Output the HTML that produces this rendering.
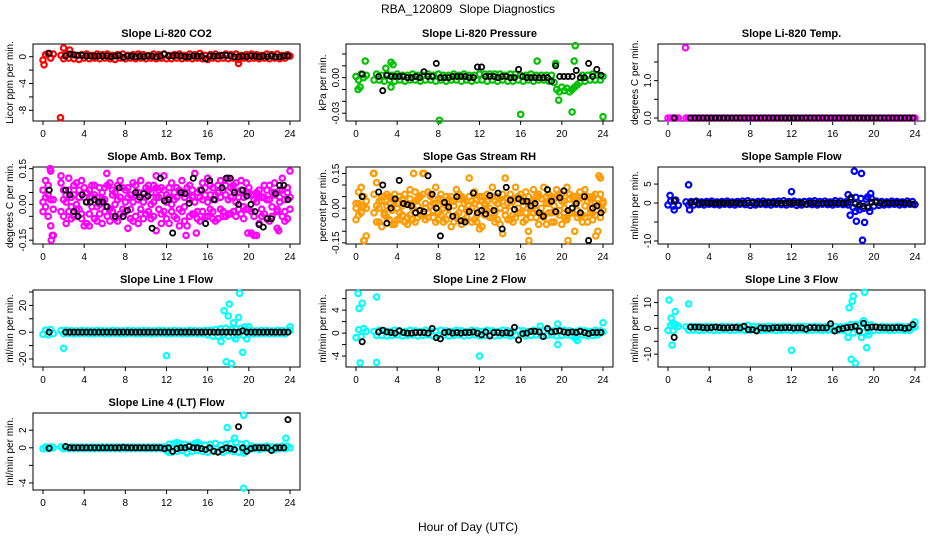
<!DOCTYPE html>
<html><head><meta charset="utf-8"><style>
html,body{margin:0;padding:0;background:#fff;}
svg{display:block;font-family:"Liberation Sans",Arial,sans-serif;}
</style></head><body>
<svg id="chart" width="936" height="540" xmlns="http://www.w3.org/2000/svg">
<text x="468" y="13" text-anchor="middle" font-size="12">RBA_120809&#160; Slope Diagnostics</text>
<text x="468" y="531" text-anchor="middle" font-size="12">Hour of Day (UTC)</text>
</svg>
<script>
// ---- shared categories (hour of day) ----
const tC = [0,0.25,0.5,0.75,1,1.75,2,2.25,2.5,2.75,3,3.25,3.5,3.75,4,4.25,4.5,4.75,5,5.25,5.5,5.75,6,6.25,6.5,6.75,7,7.25,7.5,7.75,8,8.25,8.5,8.75,9,9.25,9.5,9.75,10,10.25,10.5,10.75,11,11.25,11.5,11.75,12,12.25,12.5,12.75,13,13.25,13.5,13.75,14,14.25,14.5,14.75,15,15.25,15.5,15.75,16,16.25,16.5,16.75,17,17.25,17.5,17.75,18,18.25,18.5,18.75,19,19.25,19.5,19.75,20,20.25,20.5,20.75,21,21.25,21.5,21.75,22,22.25,22.5,22.75,23,23.25,23.5,23.75,24];
const tB = [0.6,2.2,2.6,3.0,3.4,3.8,4.2,4.6,5.0,5.4,5.8,6.2,6.6,7.0,7.4,7.8,8.2,8.6,9.0,9.4,9.8,10.2,10.6,11.0,11.4,11.8,12.2,12.6,13.0,13.4,13.8,14.2,14.6,15.0,15.4,15.8,16.2,16.6,17.0,17.4,17.8,18.2,18.6,19.0,19.4,19.8,20.2,20.6,21.0,21.4,21.8,22.2,22.6,23.0,23.4,23.8];
const xTicks = [0,4,8,12,16,20,24];

// ---- CO2 ----
const co2C = [-0.5,0.3,0.5,-0.2,0.4,0.2,-0.3,0.4,-0.2,0.3,-0.3,0.2,-0.4,0.3,-0.2,0.4,-0.3,0.2,-0.2,0.4,-0.3,0.3,-0.2,0.4,-0.3,0.2,-0.4,0.3,-0.2,0.4,-0.3,0.2,-0.2,0.3,-0.3,0.4,-0.2,0.3,-0.3,0.2,-0.2,0.4,-0.3,0.3,-0.2,0.4,-0.3,0.2,-0.3,0.3,-0.2,0.4,-0.3,0.2,-0.2,0.4,-0.3,0.3,-0.2,0.5,-0.3,0.2,-0.4,0.3,-0.2,0.4,-0.3,0.2,-0.2,0.4,-0.3,0.3,-0.2,0.4,-0.4,0.2,-0.2,0.3,-0.3,0.4,-0.2,0.3,-0.3,0.2,-0.2,0.4,-0.3,0.3,-0.2,0.4,-0.3,0.2,-0.2,0.3,0.1];
const co2B = [0.5,0.1,0.4,0.3,0.2,0.2,0.1,0.1,0.1,0.1,0.1,0.1,0.0,0.1,0.2,-0.1,0.1,0.1,0.0,0.1,0.0,0.1,0.1,0.0,0.1,0.4,0.1,0.1,0.2,0.1,0.0,0.0,0.1,0.1,0.1,-0.3,0.1,0.1,0.1,0.2,0.2,0.1,0.0,0.0,0.1,0.0,0.1,0.1,0.0,0.1,0.0,0.1,0.0,0.0,0.1,0.1];
const co2OutX = [0.1,1.7,2.0,2.6,19.0];
const co2OutY = [-1.2,-9.1,1.3,1.0,-1.0];

// ---- Pressure ----
const presC = [0.001,-0.002,0.003,0.000,0.002,-0.002,0.003,-0.002,0.002,-0.003,0.003,-0.002,0.002,-0.003,0.003,-0.002,0.002,-0.003,0.002,-0.002,0.003,-0.002,0.002,-0.003,0.002,-0.002,0.003,-0.002,0.002,-0.003,0.003,-0.002,0.002,-0.003,0.002,-0.002,0.003,-0.002,0.002,-0.003,0.003,-0.002,0.002,-0.003,0.002,-0.002,0.003,-0.002,0.003,-0.003,0.003,-0.002,0.003,-0.003,0.003,-0.002,0.002,-0.003,0.003,-0.003,0.003,-0.002,0.002,-0.003,0.002,-0.002,0.003,-0.003,0.002,-0.002,0.002,-0.002,0.002,-0.003,0.002,-0.004,-0.010,-0.012,-0.008,-0.011,-0.009,-0.012,-0.010,-0.008,-0.006,-0.004,0.002,-0.003,0.002,-0.002,0.003,-0.002,0.002,-0.002,0.001];
const presB = [0.003,0.001,-0.011,0.002,0.001,0.001,0.001,0.001,0.000,0.000,0.001,0.000,0.005,0.001,0.001,0.012,0.000,0.000,0.000,0.001,0.001,0.001,0.001,0.000,0.000,0.009,0.009,0.001,0.001,0.001,0.000,0.001,0.001,0.000,0.000,0.007,0.001,0.000,0.000,0.000,0.000,0.000,0.000,-0.003,0.010,0.001,0.001,0.001,0.001,0.006,0.000,0.000,0.012,0.001,0.007,0.002];
const presOutX = [0.9,3.4,3.6,0.2,0.4,3.4,8.1,16.0,17.6,21.3,21.2,21.0,24.0,19.7,19.4,2.9];
const presOutY = [0.014,0.013,0.011,-0.010,-0.008,-0.008,-0.036,-0.031,0.014,0.027,0.014,-0.029,-0.033,-0.019,0.012,0.008];

// ---- Li-820 Temp ----
const tempC = [0,0,0,0,0,0,0,0,0,0,0,0,0,0,0,0,0,0,0,0,0,0,0,0,0,0,0,0,0,0,0,0,0,0,0,0,0,0,0,0,0,0,0,0,0,0,0,0,0,0,0,0,0,0,0,0,0,0,0,0,0,0,0,0,0,0,0,0,0,0,0,0,0,0,0,0,0,0,0,0,0,0,0,0,0,0,0,0,0,0,0,0,0,0,0];
const tempB = [0,0,0,0,0,0,0,0,0,0,0,0,0,0,0,0,0,0,0,0,0,0,0,0,0,0,0,0,0,0,0,0,0,0,0,0,0,0,0,0,0,0,0,0,0,0,0,0,0,0,0,0,0,0,0,0];
const tempOutX = [1.7];
const tempOutY = [1.88];

// ---- Amb Box Temp ----
const ambC1 = [-0.03,0.10,0.08,0.14,-0.13,0.12,0.06,-0.08,0.11,0.03,-0.05,0.09,-0.02,0.10,-0.09,0.05,-0.04,0.08,-0.06,0.03,0.07,-0.08,0.02,-0.05,0.09,-0.03,0.05,-0.07,0.10,-0.02,0.06,-0.10,0.04,0.09,-0.05,0.02,0.10,-0.06,0.07,-0.03,0.05,0.08,-0.11,0.06,-0.04,0.12,-0.06,0.03,0.09,-0.05,0.07,-0.02,0.10,-0.07,0.05,0.08,-0.04,0.13,-0.03,0.06,0.09,-0.05,0.11,-0.02,0.07,0.04,-0.06,0.10,-0.03,0.08,0.11,-0.04,0.06,0.09,-0.02,0.10,-0.06,0.05,0.07,-0.12,0.04,-0.13,0.06,-0.05,0.08,0.02,-0.07,0.05,0.09,-0.10,0.03,0.11,-0.03,0.07,0.14];
const ambC2 = [0.06,-0.01,0.04,-0.09,0.02,-0.03,0.02,0.04,-0.03,-0.06,0.04,-0.02,0.06,-0.04,0.03,-0.08,0.06,-0.01,0.04,-0.07,0.00,0.05,-0.03,0.08,-0.02,0.04,-0.06,0.02,-0.04,0.07,-0.03,0.03,-0.06,0.01,0.04,-0.08,-0.02,0.05,-0.04,0.08,-0.06,0.01,0.03,-0.02,0.07,-0.03,0.04,-0.08,0.00,0.05,-0.06,0.06,-0.03,0.03,-0.09,0.02,0.06,-0.04,0.05,-0.07,0.02,0.07,-0.05,0.04,-0.03,-0.07,0.05,-0.02,0.06,-0.05,0.02,0.07,-0.03,0.01,0.05,-0.04,0.03,-0.02,0.05,-0.03,0.02,0.05,-0.08,0.03,-0.04,0.06,0.02,-0.05,0.04,-0.02,0.06,-0.05,0.02,-0.06,0.03];
const ambC3 = [0.01,0.03,-0.05,0.02,-0.02,0.09,-0.05,0.01,0.06,-0.01,0.08,0.00,0.03,-0.06,0.07,0.01,-0.09,0.03,0.08,-0.01,-0.04,0.02,0.07,-0.01,-0.07,0.06,0.00,0.08,0.03,-0.05,0.01,0.07,-0.02,-0.07,0.08,0.05,-0.04,0.01,0.03,0.06,0.00,-0.05,0.07,0.03,-0.08,0.06,0.01,0.07,-0.03,0.02,0.03,-0.09,0.05,-0.01,0.07,-0.05,0.03,0.01,-0.06,0.03,-0.03,0.04,0.01,0.08,-0.06,0.02,0.08,0.03,-0.05,0.04,-0.04,0.03,0.08,-0.05,0.03,0.06,-0.01,0.09,-0.02,0.04,-0.05,0.01,0.04,-0.02,0.03,-0.06,0.08,-0.01,0.05,-0.03,0.01,0.06,-0.07,0.05,-0.02];
const ambB = [0.06,0.06,0.04,-0.03,-0.05,0.04,0.01,0.01,0.02,0.01,0.01,-0.01,null,-0.05,0.07,-0.05,-0.025,null,0.05,0.03,0.045,0.035,-0.1,null,0.11,0.015,0.02,-0.12,null,0.05,0.045,0.005,0.11,null,0.06,-0.08,0.1,0.02,null,0.07,0.11,0.11,0.05,0.0,0.06,0.035,0.0,-0.03,-0.085,-0.095,-0.06,-0.06,0.045,0.08,0.08,0.02];
const ambOutX = [0.7,0.8,0.9,6.2,11.0,14.9,13.9,19.9,20.5,22.9];
const ambOutY = [0.15,-0.15,-0.13,0.13,0.12,-0.12,-0.13,-0.12,-0.13,-0.11];

// ---- Gas Stream RH ----
const rhC1 = [-0.05,0.07,0.09,0.01,-0.12,0.15,0.11,-0.06,0.03,-0.02,0.06,-0.05,0.04,-0.07,0.02,0.05,-0.03,0.06,-0.04,0.08,0.02,-0.06,0.04,-0.03,0.15,-0.05,0.07,0.01,-0.04,0.09,-0.02,0.04,-0.06,0.05,0.00,-0.08,0.03,0.08,-0.02,0.05,-0.05,0.03,0.13,-0.06,0.07,-0.03,0.05,-0.08,0.02,0.06,-0.04,0.09,-0.02,0.05,-0.07,0.03,0.13,-0.05,0.06,-0.03,0.09,-0.02,0.04,-0.06,0.07,-0.10,0.03,0.08,-0.04,0.06,-0.03,0.09,-0.07,0.02,0.05,-0.06,0.08,-0.03,0.06,-0.04,0.09,-0.02,0.05,-0.10,0.03,0.07,-0.03,0.08,-0.06,0.04,-0.02,0.06,-0.10,0.13,0.03];
const rhC2 = [0.02,-0.03,0.01,-0.14,0.03,-0.02,-0.06,0.03,-0.08,0.05,-0.04,0.02,-0.07,0.03,-0.05,-0.02,0.04,-0.06,0.02,-0.03,-0.05,0.03,-0.04,0.05,-0.02,0.02,-0.04,0.05,0.02,-0.06,0.04,-0.03,0.02,-0.05,0.04,0.03,-0.06,-0.03,0.04,-0.07,0.02,-0.04,-0.01,0.03,-0.05,0.04,-0.09,0.03,-0.03,-0.01,0.05,-0.04,0.03,-0.05,0.04,-0.11,-0.03,0.04,-0.05,0.03,-0.04,0.05,-0.02,0.03,-0.05,0.02,-0.04,-0.02,0.05,-0.07,0.04,-0.03,0.05,-0.02,-0.06,0.04,-0.02,0.05,-0.07,0.03,-0.05,0.04,-0.02,0.05,-0.04,-0.03,0.05,-0.04,0.03,-0.02,0.05,-0.03,0.04,-0.04,0.02];
const rhC3 = [0.00,0.02,-0.02,0.05,0.00,0.06,0.01,0.00,0.05,-0.03,0.01,0.05,-0.01,0.06,0.00,-0.05,0.01,0.02,-0.07,0.04,0.00,0.07,0.01,-0.01,0.06,0.00,-0.02,0.06,-0.01,0.02,-0.05,0.06,0.00,0.01,-0.03,0.05,0.01,-0.04,0.06,0.00,0.04,-0.01,0.05,0.00,0.02,-0.06,0.01,0.05,-0.01,0.03,0.00,0.05,-0.06,0.02,0.00,0.06,-0.01,0.02,0.01,-0.06,0.04,0.00,0.06,0.01,-0.02,0.05,0.00,0.03,-0.01,0.05,0.00,-0.04,0.02,0.06,-0.02,0.01,0.05,-0.01,0.03,0.00,-0.04,0.06,0.00,0.03,-0.01,0.04,-0.06,0.01,0.05,0.00,-0.05,0.02,0.01,0.06,-0.01];
const rhB = [0.05,0.07,0.1,-0.065,0.0,0.04,0.12,0.02,0.015,0.01,-0.02,-0.01,-0.015,0.14,0.06,0.0,-0.12,0.025,0.005,-0.035,0.05,-0.055,-0.06,-0.015,0.065,-0.02,-0.01,-0.025,0.055,-0.01,0.065,-0.09,0.09,0.035,-0.005,0.04,0.03,0.03,0.01,0.02,-0.02,-0.035,0.08,0.03,-0.015,0.045,0.075,-0.01,0.0,0.02,-0.02,0.05,-0.14,0.0,0.01,-0.02];
const rhOutX = [0.8,1.7,5.6,6.6,16.8,20.6,23.3,23.6];
const rhOutY = [-0.14,0.15,0.15,0.15,-0.14,-0.14,-0.12,0.14];

// ---- Sample Flow ----
const sampC = [-0.5,0.5,-0.8,0.8,-0.6,0.3,-0.5,0.4,-0.5,0.5,-0.4,0.3,-0.5,0.4,-0.3,0.5,-0.4,0.3,-0.5,0.4,-0.3,0.5,-0.4,0.3,-0.5,0.4,-0.3,0.5,-0.4,0.6,-0.6,0.3,-0.5,0.4,-0.3,0.5,-0.4,0.3,-0.5,0.4,-0.3,0.5,-0.4,0.6,-0.5,0.4,-0.3,0.5,-0.6,0.3,-0.5,0.4,-0.3,0.5,-0.4,0.6,-0.5,0.4,-0.3,0.5,-0.4,0.3,-0.5,0.6,-0.3,0.5,-0.4,0.3,-0.5,1.0,-1.2,1.5,-1.0,1.2,-1.4,1.0,-1.2,1.3,-0.8,0.5,-0.6,0.4,-0.5,0.3,-0.4,0.5,-0.3,0.4,-0.5,0.3,-0.4,0.5,-0.3,0.4,-0.4];
const sampB = [0.6,0.0,0.3,-0.1,0.0,0.0,0.0,-0.1,0.0,0.0,0.0,0.0,0.0,0.0,0.0,0.0,0.0,-0.1,0.0,0.0,0.0,0.0,0.0,0.0,0.0,0.0,0.0,0.0,0.0,-0.3,0.0,0.0,-0.1,0.0,0.0,-0.1,0.0,0.0,0.0,0.0,1.5,-0.2,-0.5,-0.8,-1.0,0.2,0.2,0.0,-0.1,0.0,0.0,0.0,0.0,0.0,0.0,-0.3];
const sampOutX = [2.0,0.2,0.6,2.1,12.0,17.5,17.7,18.1,18.8,18.3,18.9,19.1,19.6,19.7,18.2,18.6,19.4];
const sampOutY = [4.8,2.0,-1.8,-1.8,3.0,2.2,-3.2,8.4,7.8,-4.8,-9.8,-5.1,-2.2,2.5,-2.2,-1.8,1.6];

// ---- Line 1 Flow ----
const l1C = [-1.5,1.5,-2,2,-1,1.2,-1.2,1.5,-1,1.2,-1.3,1,-1.2,1.4,-1,1.2,-1.3,1,-1.2,1.4,-1,1.2,-1.3,1,-1.2,1.4,-1,1.2,-1.3,1,-1.2,1.4,-1,1.2,-1.3,1,-1.2,1.4,-1,1.2,-1.3,1,-1.2,1.4,-1,1.2,-1.3,1,-1.2,1.4,-1,1.2,-1.3,1,-1.2,1.4,-1,1.2,-1.3,1,-1.2,1.4,-2,1.5,-3,2,-3,2.5,-2,3,-3,2,-3,2.5,-2,3,-2.5,2,-1.5,1.2,-1.3,1,-1.2,1.4,-1,1.2,-1.3,1,-1.2,1.4,-1,1.2,-1.3,1,1.2];
const l1B = [0,0,0,0,0,0,0,0,0,0,0,0,0,0,0,0,0,0,0,0,0,0,0,0,0,0,0,0,0,0,0,0,0,0,0,0,0,0,0,0,0,0,0,0,1,0,0,0,0,0,0,0,0,0,0,0];
const l1OutX = [2.0,12.0,17.6,17.8,18.0,18.1,18.3,18.5,18.7,19.0,19.1,19.4,19.6,19.8,20.0,24.0,17.3];
const l1OutY = [-12,-17.5,16,-22,12,21,-23.5,7,-5,11,29,-15,4,-5,4,4,-7];

// ---- Line 2 Flow ----
const l2C = [-0.8,0.6,-0.6,0.8,0.3,0.3,-0.4,0.5,-0.4,0.4,-0.5,0.3,-0.4,0.5,-0.3,0.4,-0.5,0.3,-0.4,0.5,-0.3,0.4,-0.5,0.3,-0.4,0.5,-0.3,0.4,-0.5,0.3,-0.4,0.5,-0.3,0.4,-0.5,0.3,-0.4,0.5,-0.3,0.4,-0.5,0.3,-0.4,0.5,-0.3,0.4,-0.5,0.3,-0.4,0.5,-0.3,0.4,-0.5,0.3,-0.4,0.5,-0.3,0.4,-0.5,0.3,-0.4,0.5,-0.3,0.4,-0.5,0.3,-0.4,0.5,-0.3,0.4,-0.5,0.3,-0.4,0.5,-0.3,0.4,-0.5,0.3,-0.4,0.5,-0.3,0.4,-0.5,0.3,-0.4,0.5,-0.3,0.4,-0.5,0.3,-0.4,0.5,-0.3,0.4,0.2];
const l2B = [-1.5,0.2,0.5,0.2,0.1,0.0,0.4,0.1,0.0,0.0,0.1,0.1,0.1,0.0,0.8,-0.8,-1.0,0.1,0.2,0.0,0.1,0.0,0.1,0.1,0.2,0.0,-0.3,0.2,-0.5,0.1,0.1,0.0,0.1,0.0,1.0,-1.2,-0.1,0.0,0.3,0.3,0.2,-0.6,0.8,0.2,0.3,0.4,0.2,0.1,0.2,0.1,0.3,0.1,-0.1,0.1,0.1,0.1];
const l2OutX = [0.2,0.3,0.6,2.0,0.4,2.0,12.0,17.9,19.6,19.6,21.3,21.5,24.0];
const l2OutY = [6.9,4.3,5.2,6.3,-5.2,-5.1,-4.0,1.2,1.6,-2.0,-0.9,-1.3,1.8];

// ---- Line 3 Flow ----
const l3C = [-0.8,1.2,-1,1.5,0.8,0.6,-0.7,0.8,-0.6,0.7,-0.8,0.6,-0.7,0.8,-0.6,0.7,-0.8,0.6,-0.7,0.8,-0.6,0.7,-0.8,0.6,-0.7,0.8,-0.6,0.7,-0.8,1.2,-0.7,0.8,-0.6,0.7,-0.8,0.6,-0.7,0.8,-0.6,0.7,-0.8,0.6,-0.7,0.8,-0.6,0.7,-0.8,0.6,-0.7,0.8,-0.6,0.7,-0.8,0.6,-0.7,0.8,-0.6,0.7,-0.8,0.6,-0.7,0.8,-0.6,0.7,-0.8,0.6,-0.7,0.8,-1.5,1.5,-1.8,1.5,-1.2,1.8,-1.5,1.6,-1.2,1.4,-0.8,0.6,-0.7,0.8,-0.6,0.7,-0.8,0.6,-0.7,0.8,-0.6,0.7,-0.8,0.6,-0.7,0.8,0.5];
const l3B = [-3.5,0.5,0.5,0.5,0.3,0.2,0.3,0.5,0.3,0.2,0.2,0.3,0.4,0.2,0.8,-0.5,-0.5,-1.0,0.2,0.1,0.0,0.2,0.3,0.2,0.3,0.3,0.1,0.2,0.2,-0.3,0.3,0.3,0.2,0.2,0.2,1.8,-1.0,-0.3,0.0,0.3,0.5,0.8,-1.0,2.0,0.3,0.5,0.5,0.3,0.3,0.2,0.2,0.3,0.3,0.0,0.2,1.5];
const l3OutX = [0.1,0.3,0.5,0.7,0.4,2.0,12.0,17.5,17.6,17.8,17.9,18.0,18.2,18.8,19.0,19.1,19.3,19.5,24.0];
const l3OutY = [11,4,2,6.5,-6.5,9.5,-8.5,-3.5,8,-12,10.5,12.5,-13.5,-3.5,3,14,-7.5,-2.5,2.5];

// ---- Line 4 Flow ----
const l4C = [-0.1,0.1,-0.1,0.1,0.0,0.1,-0.1,0.1,-0.1,0.1,-0.1,0.1,-0.1,0.1,-0.1,0.1,-0.1,0.1,-0.1,0.1,-0.1,0.1,-0.1,0.1,-0.1,0.1,-0.1,0.1,-0.1,0.1,-0.1,0.1,-0.1,0.1,-0.1,0.1,-0.1,0.1,-0.1,0.1,-0.1,0.1,-0.1,0.1,-0.1,0.1,-0.3,0.4,-0.5,0.5,-0.4,0.5,-0.3,0.4,-0.5,0.3,-0.4,0.5,-0.3,0.4,-0.4,0.3,-0.5,0.4,-0.3,0.5,-0.4,0.3,-0.5,0.4,-0.3,0.5,-0.4,0.6,-0.5,0.4,-0.3,0.5,-0.2,0.2,-0.1,0.1,-0.2,0.1,-0.1,0.2,-0.1,0.1,-0.2,0.1,-0.1,0.2,-0.1,0.2,0.0];
const l4B = [-0.05,0.15,0.0,0.0,0.0,0.0,0.0,0.0,0.0,0.0,0.0,0.0,0.0,0.0,0.0,0.05,0.0,0.0,0.0,0.0,0.0,0.0,0.0,0.0,0.0,-0.1,0.0,-0.4,-0.1,0.0,0.0,0.15,0.0,0.0,-0.1,-0.2,0.0,-0.4,-0.5,-0.2,0.0,-0.1,-0.2,2.4,0.0,-0.4,-0.1,0.0,0.0,0.0,0.0,-0.3,0.0,0.0,0.0,3.2];
const l4OutX = [17.9,19.5,19.5,19.5,18.6,23.6,14.0,12.2,13.0,15.0];
const l4OutY = [2.3,3.7,-4.6,-0.6,1.1,1.1,-0.6,-0.5,0.6,0.6];

// ---- panel axis settings ----
const panels = [
 {name:'co2',title:'Slope Li-820 CO2',ylab:'Licor ppm per min.',col:0,row:0,ylim:[-9.6,1.9],ticks:[0,-2,-4,-6,-8],labels:{'0':'0','-4':'-4','-8':'-8'},color:'#ff0000',c:[co2C],b:co2B,ox:co2OutX,oy:co2OutY},
 {name:'pressure',title:'Slope Li-820 Pressure',ylab:'kPa per min.',col:1,row:0,ylim:[-0.0366,0.0284],ticks:[0.02,0.01,0,-0.01,-0.02,-0.03],labels:{'0':'0.00','-0.03':'-0.03'},color:'#00c000',c:[presC],b:presB,ox:presOutX,oy:presOutY},
 {name:'temp',title:'Slope Li-820 Temp.',ylab:'degrees C per min.',col:2,row:0,ylim:[-0.08,1.98],ticks:[0,0.5,1,1.5],labels:{'0':'0.0','1':'1.0'},color:'#ff00ff',c:[tempC],b:tempB,ox:tempOutX,oy:tempOutY},
 {name:'amb-box-temp',title:'Slope Amb. Box Temp.',ylab:'degrees C per min.',col:0,row:1,ylim:[-0.166,0.157],ticks:[0.15,0.1,0.05,0,-0.05,-0.1,-0.15],labels:{'0.15':'0.15','0':'0.00','-0.15':'-0.15'},color:'#ff00ff',c:[ambC1,ambC2,ambC3],b:ambB,ox:ambOutX,oy:ambOutY},
 {name:'gas-stream-rh',title:'Slope Gas Stream RH',ylab:'percent per min.',col:1,row:1,ylim:[-0.155,0.178],ticks:[0.15,0.1,0.05,0,-0.05,-0.1,-0.15],labels:{'0.15':'0.15','0':'0.00','-0.15':'-0.15'},color:'#ff9a00',c:[rhC1,rhC2,rhC3],b:rhB,ox:rhOutX,oy:rhOutY},
 {name:'sample-flow',title:'Slope Sample Flow',ylab:'ml/min per min.',col:2,row:1,ylim:[-10.8,9.5],ticks:[5,0,-5,-10],labels:{'5':'5','0':'0','-10':'-10'},color:'#0000ff',c:[sampC],b:sampB,ox:sampOutX,oy:sampOutY},
 {name:'line-1-flow',title:'Slope Line 1 Flow',ylab:'ml/min per min.',col:0,row:2,ylim:[-26,31.5],ticks:[30,20,10,0,-10,-20],labels:{'20':'20','0':'0','-20':'-20'},color:'#00ffff',c:[l1C],b:l1B,ox:l1OutX,oy:l1OutY},
 {name:'line-2-flow',title:'Slope Line 2 Flow',ylab:'ml/min per min.',col:1,row:2,ylim:[-5.9,7.5],ticks:[6,4,2,0,-2,-4],labels:{'4':'4','0':'0','-4':'-4'},color:'#00ffff',c:[l2C],b:l2B,ox:l2OutX,oy:l2OutY},
 {name:'line-3-flow',title:'Slope Line 3 Flow',ylab:'ml/min per min.',col:2,row:2,ylim:[-15,14.9],ticks:[10,5,0,-5,-10],labels:{'10':'10','0':'0','-10':'-10'},color:'#00ffff',c:[l3C],b:l3B,ox:l3OutX,oy:l3OutY},
 {name:'line-4-flow',title:'Slope Line 4 (LT) Flow',ylab:'ml/min per min.',col:0,row:3,ylim:[-4.8,3.96],ticks:[2,0,-2,-4],labels:{'2':'2','0':'0','-4':'-4'},color:'#00ffff',c:[l4C],b:l4B,ox:l4OutX,oy:l4OutY}
];

const NS='http://www.w3.org/2000/svg';
const svg=document.getElementById('chart');
const colL=[33,346,658], rowT=[44,167,290,413], BW=267, BH=77;
function mk(tag,attrs,parent){const e=document.createElementNS(NS,tag);for(const k in attrs)e.setAttribute(k,attrs[k]);parent.appendChild(e);return e;}

panels.forEach(p=>{
  const L=colL[p.col], T=rowT[p.row], B=T+BH;
  const sx=t=>L+10+t/24*247;
  const sy=v=>B-(v-p.ylim[0])/(p.ylim[1]-p.ylim[0])*BH;
  const g=mk('g',{},svg);
  
  
  const title=mk('text',{x:L+BW/2,y:T-7,'text-anchor':'middle','font-size':11,'font-weight':'bold'},g);
  title.textContent=p.title;
  
  
  const box=mk('rect',{x:L,y:T,width:BW,height:BH,fill:'none',stroke:'#000','stroke-width':1},g);
  
  
  const xa=mk('g',{},g);
  
  
  xTicks.forEach(t=>{
    mk('line',{x1:sx(t),x2:sx(t),y1:B,y2:B+4,stroke:'#000'},xa);
    const tl=mk('text',{x:sx(t),y:B+16,'text-anchor':'middle','font-size':10},xa);
    tl.textContent=t;
  });
  const ya=mk('g',{},g);
  
  
  p.ticks.forEach(v=>{
    const y=sy(v); if(y<T-1||y>B+1) return;
    mk('line',{x1:L-4,x2:L,y1:y,y2:y,stroke:'#000'},ya);
    const key=String(v);
    if(p.labels[key]!==undefined){
      const tl=mk('text',{x:0,y:0,'text-anchor':'middle','font-size':10,transform:`translate(${L-7},${y}) rotate(-90)`},ya);
      tl.textContent=p.labels[key];
    }
  });
  const yl=mk('text',{x:0,y:0,'text-anchor':'middle','font-size':10,transform:`translate(${L-20},${T+BH/2}) rotate(-90)`},g);
  yl.textContent=p.ylab;
  
  
  const cs=mk('g',{fill:'none',stroke:p.color,'stroke-width':2.2},g);
  
  
  p.c.forEach(arr=>arr.forEach((v,i)=>{ if(v===null) return;
    mk('circle',{cx:sx(tC[i]),cy:sy(v),r:2.7},cs);}));
  p.ox.forEach((t,i)=>mk('circle',{cx:sx(t),cy:sy(p.oy[i]),r:2.7},cs));
  const bs=mk('g',{fill:'none',stroke:'#000','stroke-width':1.8},g);
  
  
  p.b.forEach((v,i)=>{ if(v===null) return;
    mk('circle',{cx:sx(tB[i]),cy:sy(v),r:2.6},bs);});
});
</script>
</body></html>
